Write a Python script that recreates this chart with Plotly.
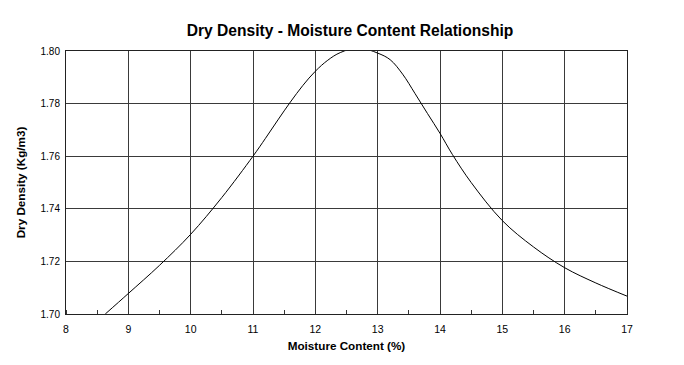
import plotly.graph_objects as go

moisture = [8.63, 9.0, 9.5, 10.0, 10.5, 11.0, 11.2, 11.4, 11.6, 11.8, 12.0, 12.2, 12.4, 12.7, 13.0, 13.2, 13.4, 13.6, 13.8, 14.0, 14.2, 14.5, 15.0, 15.5, 16.0, 16.5, 17.0]
density = [1.7000, 1.7078, 1.7185, 1.7303, 1.7443, 1.760, 1.7668, 1.7738, 1.7806, 1.7869, 1.7923, 1.7965, 1.7994, 1.8012, 1.7992, 1.7967, 1.7912, 1.7838, 1.7762, 1.7687, 1.7606, 1.7500, 1.7355, 1.7255, 1.7176, 1.7118, 1.7068]

x_ticks = [8, 9, 10, 11, 12, 13, 14, 15, 16, 17]
y_ticks = [1.70, 1.72, 1.74, 1.76, 1.78, 1.80]

font_family = "Liberation Sans, Arial, sans-serif"

fig = go.Figure()
fig.add_trace(go.Scatter(
    x=moisture, y=density, mode="lines",
    line=dict(color="black", width=1, shape="spline", smoothing=1.0),
    showlegend=False, hoverinfo="skip",
))

fig.update_layout(
    width=684, height=365,
    margin=dict(l=58, r=65, t=43, b=59),
    paper_bgcolor="white", plot_bgcolor="white",
    title=dict(text="<b>Dry Density - Moisture Content Relationship</b>",
               x=0.5, xanchor="center", y=0.937, yanchor="middle",
               font=dict(family=font_family, size=15.6, color="black")),
    font=dict(family=font_family, size=10, color="black"),
)

fig.update_xaxes(
    range=[8, 17], tickvals=x_ticks, ticktext=[str(v) for v in x_ticks],
    showgrid=True, gridcolor="#3a3a3a", gridwidth=1,
    showline=True, linecolor="#222", linewidth=1, mirror=True,
    ticks="outside", ticklen=5, tickcolor="rgba(0,0,0,0)", zeroline=False,
    tickfont=dict(family=font_family, size=10.5, color="black"),
    title=dict(text="<b>Moisture Content (%)</b>", standoff=8,
               font=dict(family=font_family, size=11.7, color="black")),
    minor=dict(dtick=0.5, tick0=8.5, ticks="inside", ticklen=4, tickcolor="#333", showgrid=False),
    automargin=False,
)

fig.update_yaxes(
    range=[1.70, 1.80], tickvals=y_ticks, ticktext=[f"{v:.2f}" for v in y_ticks],
    showgrid=True, gridcolor="#3a3a3a", gridwidth=1,
    showline=True, linecolor="#222", linewidth=1, mirror=True,
    ticks="outside", ticklen=3, tickcolor="rgba(0,0,0,0)", zeroline=False,
    tickfont=dict(family=font_family, size=10, color="black"),
    title=dict(text="<b>Dry Density (Kg/m3)</b>", standoff=12,
               font=dict(family=font_family, size=11.7, color="black")),
    automargin=False,
)

fig.write_html("out.html")
